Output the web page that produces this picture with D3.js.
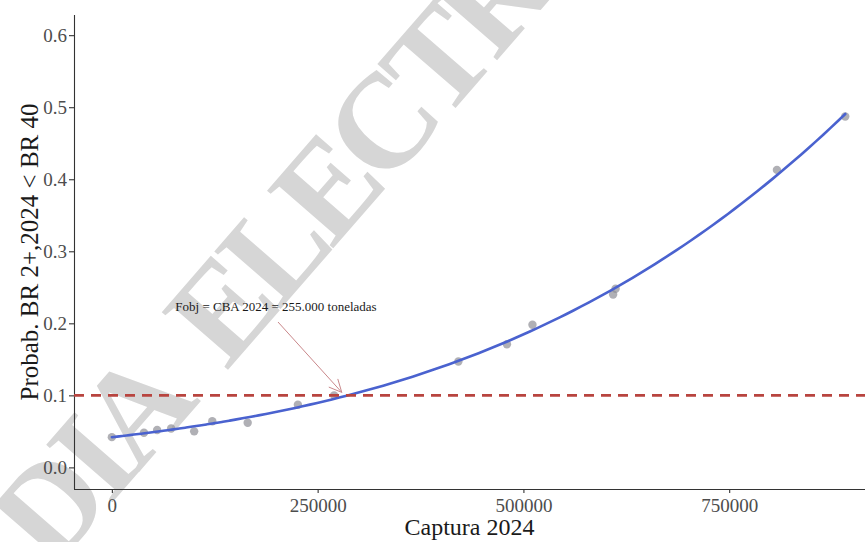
<!DOCTYPE html>
<html>
<head>
<meta charset="utf-8">
<script src="https://cdn.jsdelivr.net/npm/d3@7"></script>
<style>
  html, body { margin: 0; padding: 0; background: #fff; }
  svg { display: block; font-family: "Liberation Serif", "Times New Roman", serif; }
</style>
</head>
<body>
<svg id="chart" width="865" height="542"></svg>
<script>
// Simulated catch scenarios for 2024 and probability of falling below BR 40
const captura = [0, 39000, 55000, 72000, 100000, 122000, 165000, 226000, 270000,
                 421000, 480000, 511000, 609000, 612000, 808000, 891000];
const probab  = [0.042, 0.048, 0.052, 0.054, 0.050, 0.064, 0.062, 0.087, 0.100,
                 0.147, 0.171, 0.198, 0.240, 0.248, 0.413, 0.487];

const xTicks = [0, 250000, 500000, 750000];
const yTicks = [0.0, 0.1, 0.2, 0.3, 0.4, 0.5, 0.6];

const umbral = 0.1;               // reference probability (dashed line)
const cbaCaptura = 255000;        // target catch marked by the arrow
const cbaTexto = "Fobj = CBA 2024 = 255.000 toneladas";
const marcaAgua = "DIA ELECTRÓNICO";

const svg = d3.select("#chart");
const panel = { left: 74, right: 865, top: 15, bottom: 489 };

const x = d3.scaleLinear().domain([-46000, 915000]).range([panel.left, panel.right]);
const y = d3.scaleLinear().domain([-0.030, 0.628]).range([panel.bottom, panel.top]);

// Watermark behind the plot
svg.append("text")
  .attr("transform", "translate(52,572) rotate(-49)")
  .attr("font-family", "Liberation Serif, serif")
  .attr("font-weight", "bold")
  .attr("font-size", 134)
  .attr("letter-spacing", -9)
  .attr("word-spacing", 30)
  .attr("fill", "#d6d6d6")
  .text(marcaAgua);

// Axes
const ax = svg.append("g").attr("class", "axes");
const xAxis = d3.axisBottom(x).tickValues(xTicks).tickFormat(d3.format("d")).tickSize(4).tickPadding(6);
const yAxis = d3.axisLeft(y).tickValues(yTicks).tickFormat(d3.format(".1f")).tickSize(5).tickPadding(2);

const gx = ax.append("g").attr("transform", `translate(0,${panel.bottom})`).call(xAxis);
const gy = ax.append("g").attr("transform", `translate(${panel.left},0)`).call(yAxis);
[gx, gy].forEach(g => {
  g.select(".domain").attr("stroke", "#333").attr("stroke-width", 1.1);
  g.selectAll(".tick line").attr("stroke", "#333").attr("stroke-width", 1.1);
  g.selectAll(".tick text").attr("fill", "#4d4d4d").attr("font-size", 19)
    .attr("font-family", "Liberation Serif, serif");
});
gx.select(".domain").attr("d", `M${panel.left},0.5H${panel.right}`);
gy.select(".domain").attr("d", `M0.5,${panel.bottom}V${panel.top}`);

// Axis titles, centred on the panel
svg.append("text")
  .attr("x", (panel.left + panel.right) / 2).attr("y", 535)
  .attr("text-anchor", "middle")
  .attr("font-size", 24).attr("fill", "#1a1a1a")
  .text("Captura 2024");

svg.append("text")
  .attr("transform", `translate(38,${(panel.top + panel.bottom) / 2}) rotate(-90)`)
  .attr("text-anchor", "middle")
  .attr("font-size", 25).attr("fill", "#1a1a1a")
  .text("Probab. BR 2+,2024 < BR 40");

// Points
svg.append("g").selectAll("circle")
  .data(captura.map((c, i) => [c, probab[i]]))
  .join("circle")
  .attr("cx", d => x(d[0]))
  .attr("cy", d => y(d[1]))
  .attr("r", 4.2)
  .attr("fill", "#8f8f95")
  .attr("fill-opacity", 0.7);

// Cubic least-squares smoother through the points
function polyFit(xs, ys, deg) {
  const n = deg + 1;
  const A = Array.from({ length: n }, () => new Array(n + 1).fill(0));
  xs.forEach((xv, k) => {
    for (let i = 0; i < n; i++) {
      for (let j = 0; j < n; j++) A[i][j] += Math.pow(xv, i + j);
      A[i][n] += ys[k] * Math.pow(xv, i);
    }
  });
  for (let i = 0; i < n; i++) {
    let p = i;
    for (let r = i + 1; r < n; r++) if (Math.abs(A[r][i]) > Math.abs(A[p][i])) p = r;
    [A[i], A[p]] = [A[p], A[i]];
    for (let r = 0; r < n; r++) {
      if (r === i) continue;
      const f = A[r][i] / A[i][i];
      for (let c = i; c <= n; c++) A[r][c] -= f * A[i][c];
    }
  }
  return A.map((row, i) => row[n] / row[i]);
}
const coef = polyFit(captura.map(c => c / 1e6), probab, 3);
const fitted = v => coef.reduce((s, c, i) => s + c * Math.pow(v / 1e6, i), 0);
const xMin = d3.min(captura), xMax = d3.max(captura);
const curve = d3.range(0, 101).map(i => {
  const v = xMin + (xMax - xMin) * i / 100;
  return [v, fitted(v)];
});

svg.append("path")
  .datum(curve)
  .attr("fill", "none")
  .attr("stroke", "#4a62cf")
  .attr("stroke-width", 2.6)
  .attr("stroke-linecap", "round")
  .attr("d", d3.line().x(d => x(d[0])).y(d => y(d[1])).curve(d3.curveMonotoneX));

// Threshold line
svg.append("line")
  .attr("x1", panel.left).attr("x2", panel.right)
  .attr("y1", y(umbral)).attr("y2", y(umbral))
  .attr("stroke", "#b8443f")
  .attr("stroke-width", 2.6)
  .attr("stroke-dasharray", "10,7");

// Annotation with arrow
svg.append("text")
  .attr("x", 276).attr("y", 311)
  .attr("text-anchor", "middle")
  .attr("font-size", 13).attr("fill", "#1a1a1a")
  .text(cbaTexto);

const tipX = x(cbaCaptura) + 20, tipY = y(umbral) - 3;
const startX = 278, startY = 322;
const ang = Math.atan2(tipY - startY, tipX - startX);
const headLen = 14, headAng = Math.PI / 7;
const arrow = svg.append("g").attr("stroke", "#c9878a").attr("stroke-width", 1).attr("fill", "none");
arrow.append("line").attr("x1", startX).attr("y1", startY).attr("x2", tipX).attr("y2", tipY);
arrow.append("path").attr("d",
  `M${tipX - headLen * Math.cos(ang - headAng)},${tipY - headLen * Math.sin(ang - headAng)}` +
  `L${tipX},${tipY}` +
  `L${tipX - headLen * Math.cos(ang + headAng)},${tipY - headLen * Math.sin(ang + headAng)}`);
</script>
</body>
</html>
